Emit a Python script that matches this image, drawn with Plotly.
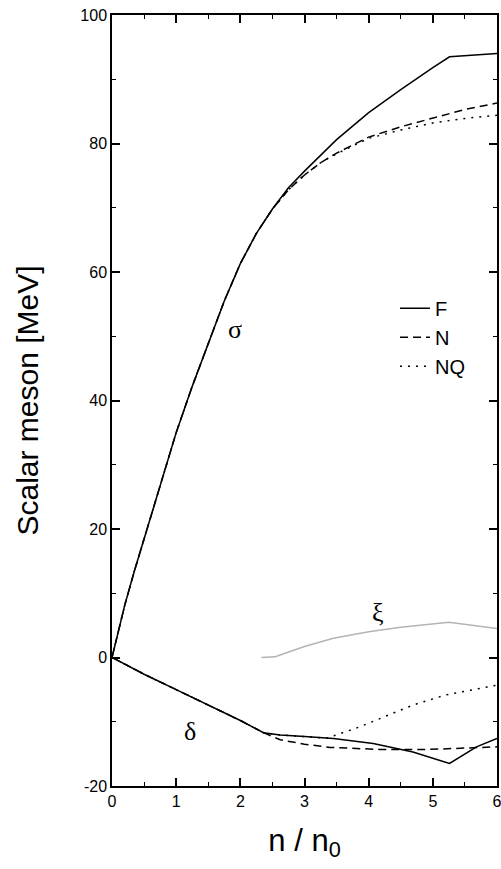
import plotly.graph_objects as go

# ---- data ----
sigma_F_x = [0, 0.1, 0.2, 0.35, 0.5, 0.62, 0.75, 1.0, 1.25, 1.5, 1.75, 2.0, 2.25, 2.5, 2.75, 3.0, 3.25, 3.5, 4.0, 4.5, 5.0, 5.26, 6.0]
sigma_F_y = [0, 4.2, 8.2, 13.5, 18.5, 22.4, 26.8, 35.0, 42.2, 49.0, 55.5, 61.3, 66.0, 69.8, 73.1, 75.7, 78.2, 80.6, 84.8, 88.4, 91.8, 93.5, 94.0]

sigma_N_x = [0, 0.1, 0.2, 0.35, 0.5, 0.62, 0.75, 1.0, 1.25, 1.5, 1.75, 2.0, 2.25, 2.5, 2.75, 3.0, 3.25, 3.5, 4.0, 4.5, 5.0, 5.5, 6.0]
sigma_N_y = [0, 4.2, 8.2, 13.5, 18.5, 22.4, 26.8, 35.0, 42.2, 49.0, 55.5, 61.3, 66.0, 69.8, 72.8, 75.1, 77.0, 78.5, 81.0, 82.6, 84.0, 85.3, 86.3]

sigma_NQ_x = [0, 0.1, 0.2, 0.35, 0.5, 0.62, 0.75, 1.0, 1.25, 1.5, 1.75, 2.0, 2.25, 2.5, 2.75, 3.0, 3.25, 3.5, 4.0, 4.5, 5.0, 5.5, 6.0]
sigma_NQ_y = [0, 4.2, 8.2, 13.5, 18.5, 22.4, 26.8, 35.0, 42.2, 49.0, 55.5, 61.3, 66.0, 69.8, 72.8, 75.1, 77.0, 78.4, 80.8, 82.1, 83.2, 83.9, 84.4]

delta_F_x = [0, 0.5, 1.0, 1.5, 2.0, 2.36, 2.62, 3.0, 3.45, 4.07, 4.69, 5.26, 5.68, 6.0]
delta_F_y = [0, -2.6, -5.0, -7.4, -9.8, -11.7, -12.06, -12.3, -12.6, -13.4, -14.7, -16.5, -13.9, -12.6]

delta_N_x = [0, 0.5, 1.0, 1.5, 2.0, 2.36, 2.62, 3.0, 3.4, 4.17, 4.95, 5.5, 6.0]
delta_N_y = [0, -2.6, -5.0, -7.4, -9.8, -11.7, -12.8, -13.5, -14.0, -14.3, -14.3, -14.1, -13.9]

delta_NQ_x = [0, 0.5, 1.0, 1.5, 2.0, 2.36, 2.62, 3.0, 3.35, 3.86, 4.2, 4.69, 5.21, 5.89, 6.0]
delta_NQ_y = [0, -2.6, -5.0, -7.4, -9.8, -11.7, -12.06, -12.3, -12.55, -10.8, -9.4, -7.4, -5.8, -4.5, -4.3]

xi_x = [2.33, 2.54, 2.62, 3.0, 3.45, 4.0, 4.5, 5.25, 6.0]
xi_y = [0.0, 0.1, 0.4, 1.7, 3.0, 4.0, 4.7, 5.5, 4.5]

x_ticks = [0, 1, 2, 3, 4, 5, 6]
y_ticks = [-20, 0, 20, 40, 60, 80, 100]

labels = [("σ", 1.92, 51.0), ("δ", 1.21, -11.5), ("ξ", 4.15, 7.0)]

# ---- styles ----
styles = {
    "F": dict(color="black", width=1.5, dash="solid"),
    "N": dict(color="black", width=1.5, dash="8px,5px"),
    "NQ": dict(color="black", width=1.5, dash="2px,6px"),
}

fig = go.Figure()
for name, xs, ys in [("F", sigma_F_x, sigma_F_y), ("N", sigma_N_x, sigma_N_y), ("NQ", sigma_NQ_x, sigma_NQ_y)]:
    fig.add_trace(go.Scatter(x=xs, y=ys, mode="lines", name=name, legendgroup=name,
                             line=dict(**styles[name])))
for name, xs, ys in [("F", delta_F_x, delta_F_y), ("N", delta_N_x, delta_N_y), ("NQ", delta_NQ_x, delta_NQ_y)]:
    fig.add_trace(go.Scatter(x=xs, y=ys, mode="lines", name=name, legendgroup=name, showlegend=False,
                             line=dict(**styles[name])))
fig.add_trace(go.Scatter(x=xi_x, y=xi_y, mode="lines", name="ξ", showlegend=False,
                         line=dict(color="#b4b4b4", width=1.5)))

for txt, lx, ly in labels:
    fig.add_annotation(x=lx, y=ly, text=txt, showarrow=False,
                       font=dict(family="Liberation Serif", size=26, color="black"))

axis_common = dict(
    showline=True, linecolor="black", linewidth=1.5, mirror="ticks",
    ticks="inside", ticklen=8, tickwidth=1.5, tickcolor="black",
    showgrid=False, zeroline=False, automargin=False, ticklabeloverflow="allow",
    tickfont=dict(family="Liberation Sans", size=16, color="black"),
)

fig.update_xaxes(range=[0, 6], tickvals=x_ticks, ticktext=[str(v) for v in x_ticks],
                 minor=dict(ticks="inside", ticklen=4, tickwidth=1.2, tickcolor="black", dtick=0.5, showgrid=False),
                 title=dict(text="n / n<sub>0</sub>", font=dict(family="Liberation Sans", size=31, color="black"), standoff=20),
                 **axis_common)
fig.update_yaxes(range=[-20, 100], tickvals=y_ticks, ticktext=[str(v) for v in y_ticks],
                 minor=dict(ticks="inside", ticklen=4, tickwidth=1.2, tickcolor="black", dtick=10, showgrid=False),
                 title=dict(text="Scalar meson [MeV]", font=dict(family="Liberation Sans", size=30, color="black"), standoff=33),
                 **axis_common)

fig.update_layout(
    width=501, height=869, autosize=False,
    margin=dict(l=112, r=4, t=15, b=83),
    paper_bgcolor="white", plot_bgcolor="white",
    showlegend=True,
    legend=dict(x=0.735, y=0.645, xanchor="left", yanchor="top",
                bgcolor="rgba(0,0,0,0)", borderwidth=0,
                font=dict(family="Liberation Sans", size=20, color="black"),
                traceorder="normal"),
)

fig.write_html("out.html", config={"responsive": False, "displayModeBar": False},
               post_script="document.body.style.margin='0';document.body.style.overflow='hidden';")
